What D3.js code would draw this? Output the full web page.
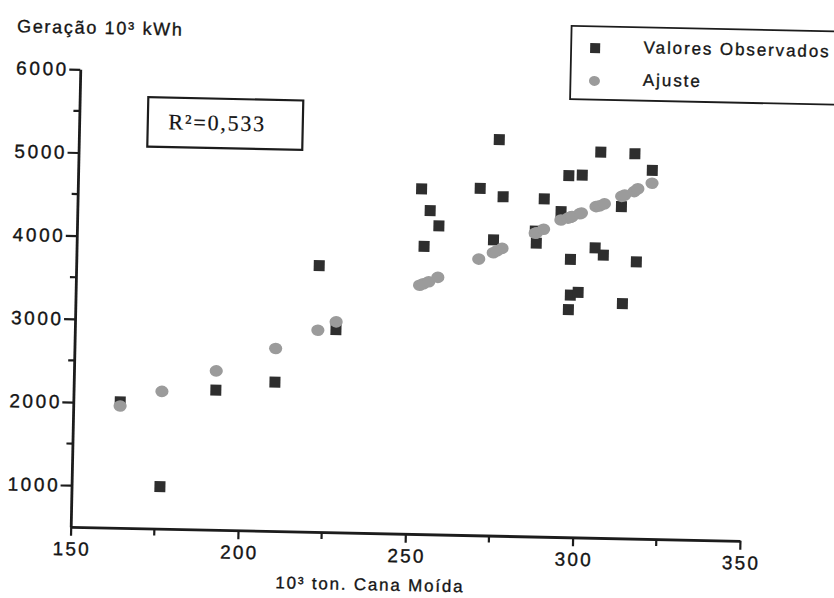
<!DOCTYPE html>
<html>
<head>
<meta charset="utf-8">
<script src="https://cdn.jsdelivr.net/npm/d3@7"></script>
<style>
  html, body { margin: 0; padding: 0; background: #fff; }
  svg { display: block; }
  text { font-family: "Liberation Sans", Arial, Helvetica, sans-serif; fill: #151515;
         stroke: #151515; stroke-width: 0.35px; }
</style>
</head>
<body>
<svg id="chart" width="834" height="598"></svg>
<script>
// Cana moída (10^3 t) de cada safra observada
const canaMoida = [164.0, 176.4, 192.5, 210.1, 222.6, 228.0, 252.7, 253.8, 255.4, 258.1,
                   270.2, 274.5, 275.6, 277.1, 286.9, 287.3, 289.4, 294.5, 296.6, 297.3,
                   297.6, 297.8, 300.1, 300.6, 304.9, 306.0, 307.4, 312.5, 313.4, 316.2,
                   317.3, 321.5];
// Geração observada (10^3 kWh)
const geracaoObservada = [2015, 1005, 2180, 2290, 3700, 2935, 4650, 3960, 4390, 4210,
                          4670, 4055, 5260, 4575, 4170, 4025, 4560, 4410, 4845, 3235,
                          3840, 3410, 3445, 4855, 3985, 5135, 3900, 4485, 3320, 5125,
                          3825, 4930];
// Geração ajustada pela regressão (10^3 kWh)
const geracaoAjuste = [1965, 2150, 2410, 2695, 2925, 3030, 3490, 3510, 3535, 3590,
                       3820, 3900, 3925, 3955, 4145, 4150, 4195, 4310, 4335, 4345,
                       4350, 4355, 4390, 4400, 4480, 4490, 4515, 4610, 4625, 4670,
                       4705, 4775];

const xTicks = [150, 200, 250, 300, 350];
const xMinorTicks = [175, 225, 275, 325];
const yTicks = [1000, 2000, 3000, 4000, 5000, 6000];
const yMinorTicks = [1500, 2500, 3500, 4500, 5500];
const seriesNames = ["Valores Observados", "Ajuste"];
const yTitle = "Geração 10³ kWh";
const xTitle = "10³ ton. Cana Moída";
const r2Label = "R²=0,533";

const ink = "#1c1c1c";
const squareFill = "#2e2e2e";
const dotFill = "#9b9b9b";

const svg = d3.select("#chart");
// the whole sheet sits slightly tilted on the page
const sheet = svg.append("g").attr("transform", "rotate(1.2, 70, 527.3)");

const x = d3.scaleLinear().domain([150, 350]).range([70.7, 740.1]);
const y = d3.scaleLinear().domain([500, 6000]).range([526.8, 69.2]);

// ---- axes ----
const yAxis = sheet.append("g")
  .attr("transform", `translate(${x(150)},0)`)
  .call(d3.axisLeft(y).tickValues(yTicks).tickSize(11).tickSizeOuter(0).tickPadding(3)
        .tickFormat(d3.format("d")));
yAxis.select(".domain").attr("stroke", ink).attr("stroke-width", 2.8);
yAxis.selectAll(".tick line").attr("stroke", ink).attr("stroke-width", 2.2);
yAxis.selectAll(".tick text")
  .style("font-size", "19px").style("letter-spacing", "2.6px")
  .attr("dx", "2.6");

sheet.append("g").selectAll("line").data(yMinorTicks).join("line")
  .attr("x1", x(150) - 6).attr("x2", x(150))
  .attr("y1", d => y(d)).attr("y2", d => y(d))
  .attr("stroke", ink).attr("stroke-width", 2.2);

const xAxis = sheet.append("g")
  .attr("transform", `translate(0,${y(500)})`)
  .call(d3.axisBottom(x).tickValues(xTicks).tickSize(9).tickSizeOuter(0).tickPadding(6)
        .tickFormat(d3.format("d")));
xAxis.select(".domain").attr("stroke", ink).attr("stroke-width", 2.8);
xAxis.selectAll(".tick line").attr("stroke", ink).attr("stroke-width", 2.2);
xAxis.selectAll(".tick text")
  .style("font-size", "19px").style("letter-spacing", "2.2px")
  .attr("dx", "1.1");

sheet.append("g").selectAll("line").data(xMinorTicks).join("line")
  .attr("x1", d => x(d)).attr("x2", d => x(d))
  .attr("y1", y(500)).attr("y2", y(500) + 7)
  .attr("stroke", ink).attr("stroke-width", 2.2);

// ---- axis titles ----
sheet.append("text")
  .attr("x", 6.6).attr("y", 33.4)
  .style("font-size", "18px").style("letter-spacing", "1.7px")
  .text(yTitle);

sheet.append("text")
  .attr("x", 371).attr("y", 584)
  .attr("text-anchor", "middle")
  .style("font-size", "17px").style("letter-spacing", "1.8px")
  .text(xTitle);

// ---- R² box ----
sheet.append("rect")
  .attr("x", 139.3).attr("y", 95.7).attr("width", 155).attr("height", 49.4)
  .attr("fill", "none").attr("stroke", ink).attr("stroke-width", 2.2);
sheet.append("text")
  .attr("x", 160).attr("y", 127.3)
  .style("font-family", "'Liberation Serif', 'Times New Roman', serif")
  .style("font-size", "22px").style("letter-spacing", "1.8px")
  .style("stroke-width", "0.2px")
  .text(r2Label);

// ---- data marks ----
const sq = 11;
sheet.append("g").selectAll("rect").data(canaMoida).join("rect")
  .attr("x", (d) => x(d) - sq / 2)
  .attr("y", (d, i) => y(geracaoObservada[i]) - sq / 2)
  .attr("width", sq).attr("height", sq)
  .attr("fill", squareFill);

sheet.append("g").selectAll("ellipse").data(canaMoida).join("ellipse")
  .attr("cx", (d) => x(d))
  .attr("cy", (d, i) => y(geracaoAjuste[i]))
  .attr("rx", 6.6).attr("ry", 5.8)
  .attr("fill", dotFill);

// ---- legend ----
const legend = sheet.append("g");
legend.append("rect")
  .attr("x", 561).attr("y", 15.5).attr("width", 320).attr("height", 73.3)
  .attr("fill", "#fff").attr("stroke", ink).attr("stroke-width", 1.8);
legend.append("rect")
  .attr("x", 585 - 5).attr("y", 37.3 - 5).attr("width", 10).attr("height", 10)
  .attr("fill", squareFill);
legend.append("ellipse")
  .attr("cx", 585).attr("cy", 70).attr("rx", 5.5).attr("ry", 5)
  .attr("fill", dotFill);
legend.selectAll("text.lbl").data(seriesNames).join("text")
  .attr("class", "lbl")
  .attr("x", 633.5)
  .attr("y", (d, i) => i === 0 ? 41.3 : 73.8)
  .style("font-size", "17px").style("letter-spacing", "1.9px")
  .text(d => d);
</script>
</body>
</html>
